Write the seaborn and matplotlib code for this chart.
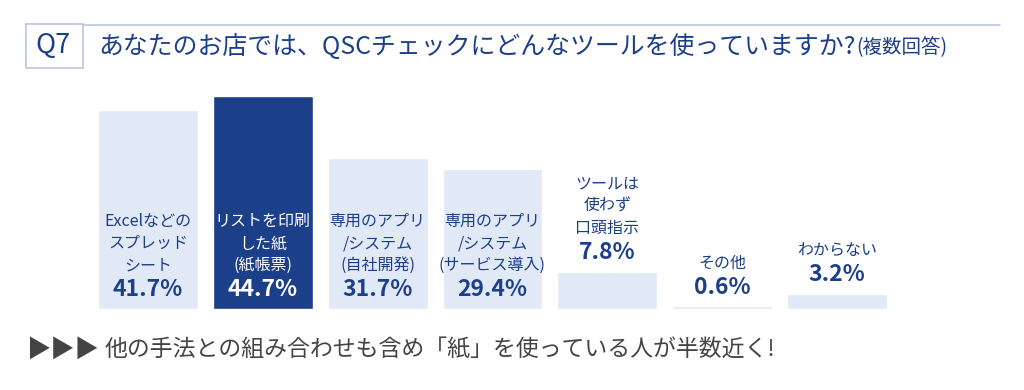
import numpy as np
import pandas as pd
import seaborn as sns
from matplotlib import pyplot as plt
from matplotlib.patches import Rectangle
from matplotlib.lines import Line2D

categories = ['Excelなどの\nスプレッド\nシート', 'リストを印刷\nした紙\n(紙帳票)',
              '専用のアプリ\n/システム\n(自社開発)', '専用のアプリ\n/システム\n(サービス導入)',
              'ツールは\n使わず\n口頭指示', 'その他', 'わからない']
values = [41.7, 44.7, 31.7, 29.4, 7.8, 0.6, 3.2]
value_labels = ['41.7%', '44.7%', '31.7%', '29.4%', '7.8%', '0.6%', '3.2%']
highlight = 1

title = 'あなたのお店では、QSCチェックにどんなツールを使っていますか?'
title_note = '(複数回答)'
footer = '他の手法との組み合わせも含め「紙」を使っている人が半数近く!'

navy = '#1c3f8a'
light = '#e2e9f6'
frame = '#b8c6e1'

sns.set_theme(style='white')
plt.rcParams['font.family'] = ['Noto Sans CJK JP', 'DejaVu Sans']

df = pd.DataFrame({'cat': categories, 'val': values})
colors = [navy if i == highlight else light for i in range(len(values))]

fig = plt.figure(figsize=(10.24, 3.9), dpi=100)
ax = fig.add_axes([90.6 / 1024, 81 / 390, 803.8 / 1024, 238.5 / 390])
sns.barplot(data=df, x='cat', y='val', hue='cat', palette=colors, legend=False,
            width=0.87, saturation=1, ax=ax)
ax.set_xlim(-0.5, 6.5)
ax.set_ylim(0, 50)
ax.axis('off')

# tall bars carry their labels inside, short ones above the bar
for i, (v, lab) in enumerate(zip(values, value_labels)):
    anchor = 0 if v > 20 else v
    c = 'white' if i == highlight else navy
    ax.annotate(lab, xy=(i, anchor), xytext=(0, 13.7), textcoords='offset points',
                ha='center', va='center', fontsize=16.5, fontweight='bold', color=c)
    ax.annotate(categories[i], xy=(i, anchor), xytext=(0, 25), textcoords='offset points',
                ha='center', va='bottom', fontsize=11.5, color=c, linespacing=1.39)

# header: Q7 box, rule and question
fig.add_artist(Rectangle((26 / 1024, 1 - 68 / 390), 57 / 1024, 44 / 390,
                         transform=fig.transFigure, fill=False, edgecolor=frame, lw=1.2))
fig.add_artist(Line2D([83 / 1024, 1000 / 1024], [1 - 25 / 390, 1 - 25 / 390],
                      transform=fig.transFigure, color=frame, lw=1.2))
fig.text(53 / 1024, 1 - 46 / 390, 'Q7', ha='center', va='center', fontsize=19.5, color=navy)
t = fig.text(98 / 1024, 1 - 47 / 390, title, ha='left', va='center', fontsize=17.9, color=navy)
fig.canvas.draw()
bb = t.get_window_extent()
fig.text(bb.x1 / 1024 + 0.001, 1 - 48 / 390, title_note, ha='left', va='center',
         fontsize=14, color=navy)

fig.text(26 / 1024, 1 - 350 / 390, '▶▶▶', ha='left', va='center', fontsize=17.5, color='#444444')
fig.text(105 / 1024, 1 - 350 / 390, footer, ha='left', va='center', fontsize=16.5, color='#444444')

fig.savefig('out.png', dpi=100)
